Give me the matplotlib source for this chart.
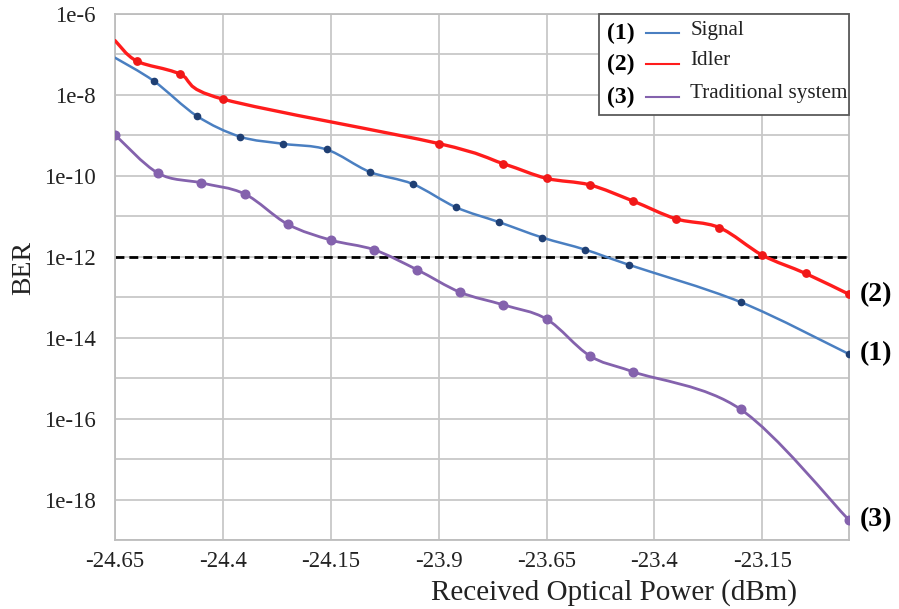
import numpy as np
import matplotlib
matplotlib.use("Agg")
import matplotlib.pyplot as plt
from matplotlib.path import Path
from matplotlib.patches import PathPatch, Rectangle
from matplotlib.lines import Line2D
from matplotlib.ticker import FixedLocator, FixedFormatter, NullFormatter

plt.rcParams['font.family'] = ['Liberation Serif', 'DejaVu Serif']

# received optical power (dBm) and measured BER for each configuration
signal_x = [-24.65, -24.56, -24.46, -24.36, -24.26, -24.16, -24.06, -23.96,
            -23.86, -23.76, -23.66, -23.56, -23.46, -23.20, -22.95]
signal_ber = [8.3e-8, 2.2e-8, 3.0e-9, 9.3e-10, 6.2e-10, 4.5e-10, 1.26e-10, 6.3e-11,
              1.68e-11, 7.2e-12, 3.0e-12, 1.5e-12, 6.4e-13, 7.6e-14, 4.0e-15]

idler_x = [-24.65, -24.60, -24.50, -24.40, -23.90, -23.75, -23.65, -23.55,
           -23.45, -23.35, -23.25, -23.15, -23.05, -22.95]
idler_ber = [2.2e-7, 6.9e-8, 3.3e-8, 7.9e-9, 6.3e-10, 2.0e-10, 8.7e-11, 6.0e-11,
             2.4e-11, 8.7e-12, 5.3e-12, 1.1e-12, 3.9e-13, 1.2e-13]

trad_x = [-24.65, -24.55, -24.45, -24.35, -24.25, -24.15, -24.05, -23.95,
          -23.85, -23.75, -23.65, -23.55, -23.45, -23.20, -22.95]
trad_ber = [1.03e-9, 1.16e-10, 6.7e-11, 3.6e-11, 6.4e-12, 2.6e-12, 1.5e-12, 4.8e-13,
            1.33e-13, 6.5e-14, 2.9e-14, 3.6e-15, 1.45e-15, 1.7e-16, 3.2e-19]

fec_limit = 1e-12

x_ticks = [-24.65, -24.4, -24.15, -23.9, -23.65, -23.4, -23.15]
x_tick_labels = ['-24.65', '-24.4', '-24.15', '-23.9', '-23.65', '-23.4', '-23.15']
y_ticks = [1e-6, 1e-8, 1e-10, 1e-12, 1e-14, 1e-16, 1e-18]
y_tick_labels = ['1e-6', '1e-8', '1e-10', '1e-12', '1e-14', '1e-16', '1e-18']

series = [
    # tag, name, x, ber, line colour, marker colour, lw, marker size, skip first marker
    ('(1)', 'Signal', signal_x, signal_ber, '#4a7fc1', '#1f3f73', 1.8, 4.5, True),
    ('(2)', 'Idler', idler_x, idler_ber, '#ff1c1c', '#f01818', 2.4, 5.3, True),
    ('(3)', 'Traditional system', trad_x, trad_ber, '#8462ad', '#8462ad', 2.0, 6.2, False),
]


def smooth_path(xs, ys):
    # Catmull-Rom style cubic Bezier through the points, built in (x, log10 y)
    px = np.asarray(xs, float)
    py = np.log10(np.asarray(ys, float))
    n = len(px)
    verts = [(px[0], py[0])]
    codes = [Path.MOVETO]
    for i in range(n - 1):
        i0 = max(i - 1, 0)
        i3 = min(i + 2, n - 1)
        c1 = (px[i] + (px[i + 1] - px[i0]) / 6, py[i] + (py[i + 1] - py[i0]) / 6)
        c2 = (px[i + 1] - (px[i3] - px[i]) / 6, py[i + 1] - (py[i3] - py[i]) / 6)
        verts += [c1, c2, (px[i + 1], py[i + 1])]
        codes += [Path.CURVE4] * 3
    verts = [(vx, 10 ** vy) for vx, vy in verts]
    return Path(verts, codes)


fig = plt.figure(figsize=(8.99, 6.09), dpi=100)
ax = fig.add_axes([0.128, 0.113, 0.816, 0.864])

ax.set_yscale('log')
ax.set_xlim(-24.65, -22.95)
ax.set_ylim(1e-19, 1e-6)

ax.xaxis.set_major_locator(FixedLocator(x_ticks))
ax.xaxis.set_major_formatter(FixedFormatter(x_tick_labels))
ax.yaxis.set_major_locator(FixedLocator(y_ticks))
ax.yaxis.set_major_formatter(FixedFormatter(y_tick_labels))
ax.yaxis.set_minor_locator(FixedLocator([10.0 ** -k for k in range(6, 20)]))
ax.yaxis.set_minor_formatter(NullFormatter())

ax.grid(True, which='both', axis='y', color='#c8c8c8', lw=1.3)
ax.grid(True, which='major', axis='x', color='#c8c8c8', lw=1.3)
ax.set_axisbelow(True)
for sp in ax.spines.values():
    sp.set_color('#bdbdbd')
    sp.set_linewidth(1.3)
ax.tick_params(which='both', length=0)
ax.tick_params(axis='y', pad=14, labelsize=16.5, labelcolor='#222222')
ax.tick_params(axis='x', pad=8, labelsize=16.5, labelcolor='#222222')

ax.axhline(fec_limit, color='black', lw=2.0, ls=(0, (3.2, 1.8)), zorder=2)

for tag, name, xs, ber, lc, mc, lw, ms, skip in series:
    ax.add_patch(PathPatch(smooth_path(xs, ber), fill=False, edgecolor=lc,
                           lw=lw, capstyle='round', zorder=3))
    start = 1 if skip else 0
    ax.plot(xs[start:], ber[start:], 'o', ls='none', color=mc, ms=ms, zorder=4)
    ax.annotate(tag, xy=(xs[-1], ber[-1]), xytext=(8, 0), textcoords='offset points',
                fontsize=20, fontweight='bold', va='center', ha='left',
                annotation_clip=False)

ax.set_xlabel('Received Optical Power (dBm)', fontsize=21, color='#222222')
ax.xaxis.set_label_coords(0.68, -0.074)
ax.set_ylabel('BER', fontsize=20, color='#222222')
ax.yaxis.set_label_coords(-0.107, 0.517)

# legend box with bold tags in front of each entry
ax.add_patch(Rectangle((0.66, 0.808), 0.341, 0.192, transform=ax.transAxes,
                       facecolor='white', edgecolor='#5a5a5a', lw=1.3, zorder=6,
                       clip_on=False))
row_y = [0.963, 0.905, 0.842]
for (tag, name, xs, ber, lc, mc, lw, ms, skip), yy in zip(series, row_y):
    ax.text(0.671, yy, tag, transform=ax.transAxes, fontsize=17, fontweight='bold',
            va='center', ha='left', zorder=7)
    ax.add_line(Line2D([0.724, 0.769], [yy, yy], transform=ax.transAxes,
                       color=lc, lw=1.5, zorder=7))
    ax.text(0.784, yy + 0.006, name, transform=ax.transAxes, fontsize=15.2,
            va='center', ha='left', color='#222222', zorder=7)

fig.savefig('out.png', dpi=100)
